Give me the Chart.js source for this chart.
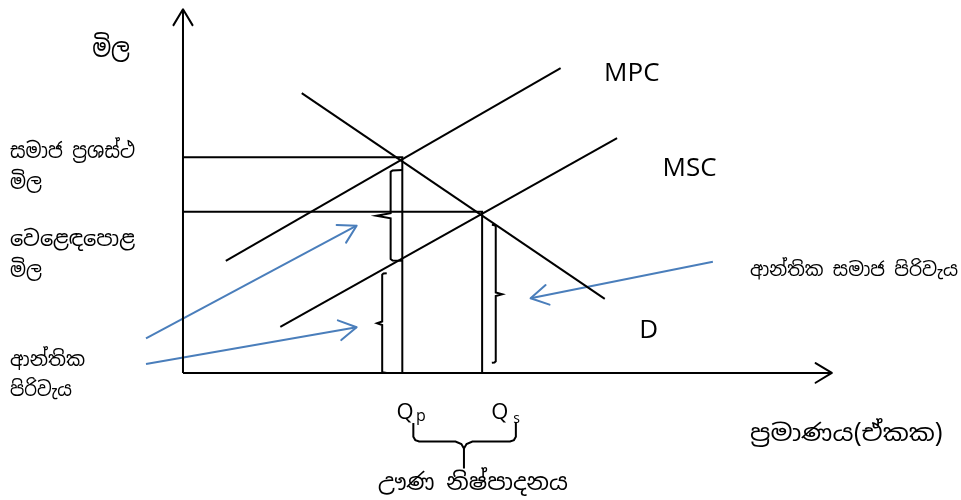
<!DOCTYPE html>
<html>
<head>
<meta charset="utf-8">
<script src="https://cdn.jsdelivr.net/npm/chart.js@4/dist/chart.umd.min.js"></script>
<style>
html,body{margin:0;padding:0;background:#fff;}
#wrap{width:961px;height:500px;position:relative;}
</style>
</head>
<body>
<div id="wrap"><canvas id="c" width="961" height="500"></canvas></div>
<script>
// ---- data (quantity on x, price on y, arbitrary units) ----
const axisY = [[0,0],[0,100.2]];
const axisX = [[0,0],[100,0]];
const mpcLine = [[6.6,30.9],[58.2,84.0]];
const mscLine = [[15.0,12.7],[66.9,64.7]];
const demandLine = [[18.3,77.1],[65.0,20.4]];
const qp = 33.8, qs = 46.1;
const socialPrice = 59.4, marketPrice = 44.4;
const socialGuide = [[0,socialPrice],[qp,socialPrice],[qp,0]];
const marketGuide = [[0,marketPrice],[qs,marketPrice],[qs,0]];
const braceA = [[33.8,55.9],[32.3,55.8],[32.0,55.4],[32.0,44.0],[29.8,43.3],[32.0,42.6],[32.0,31.4],[32.3,31.0],[33.8,30.9]];
const braceB = [[31.4,27.5],[30.9,27.4],[30.7,27.1],[30.7,14.2],[29.9,13.7],[30.7,13.2],[30.7,0.2],[31.4,0]];
const braceC = [[47.6,40.8],[48.0,40.7],[48.2,40.4],[48.2,22.2],[49.2,21.7],[48.2,21.2],[48.2,3.2],[48.0,2.9],[47.6,2.8]];
const braceQ = [[35.5,-13.8],[35.5,-17.6],[35.8,-18.5],[36.4,-18.9],[42.0,-18.9],[42.9,-19.6],[43.3,-20.8],[43.3,-26.3],[43.3,-20.8],[43.7,-19.6],[44.6,-18.9],[50.4,-18.9],[51.0,-18.5],[51.3,-17.6],[51.3,-13.8]];
const arrowMC1 = [[-5.7,9.56],[26.76,40.58]];
const arrowMC2 = [[-5.7,2.48],[26.76,12.59]];
const arrowMSC = [[81.66,30.66],[53.57,20.58]];

const labels = [
  {t:'මිල', x:-14.0, y:89.0, size:26, w:38, base:'middle'},
  {t:'සමාජ ප්‍රශස්ථ', x:-26.66, y:60.9, size:21, w:125, base:'middle'},
  {t:'මිල', x:-26.66, y:52.3, size:21, w:32, base:'middle'},
  {t:'වෙළෙඳපොළ', x:-26.66, y:36.6, size:21, w:125, base:'middle'},
  {t:'මිල', x:-26.66, y:28.1, size:21, w:32, base:'middle'},
  {t:'ආන්තික', x:-26.66, y:3.3, size:20, w:75, base:'middle'},
  {t:'පිරිවැය', x:-26.66, y:-4.7, size:20, w:62, base:'middle'},
  {t:'ආන්තික සමාජ පිරිවැය', x:87.38, y:28.1, size:19, w:208, base:'middle'},
  {t:'ප්‍රමාණය(ඒකක)', x:87.38, y:-17.1, size:23, w:193, base:'middle'},
  {t:'ඌණ නිෂ්පාදනය', x:30.05, y:-30.4, size:23, w:190, base:'middle'},
  {t:'MPC', x:64.9, y:80.5, size:26, base:'alphabetic', latin:true},
  {t:'MSC', x:73.9, y:54.3, size:26, base:'alphabetic', latin:true},
  {t:'D', x:70.3, y:9.6, size:26, base:'alphabetic', latin:true},
  {t:'Q', x:32.9, y:-12.7, size:22, base:'alphabetic', latin:true},
  {t:'p', x:35.9, y:-13.3, size:16, base:'alphabetic', latin:true},
  {t:'Q', x:47.5, y:-12.7, size:22, base:'alphabetic', latin:true},
  {t:'s', x:50.9, y:-13.8, size:14, base:'alphabetic', latin:true}
];

const BLACK = '#000000', BLUE = '#4a7ebb';
function toXY(a){ return a.map(p=>({x:p[0],y:p[1]})); }
function ds(data, color, width, extra){
  return Object.assign({data:toXY(data), showLine:true, borderColor:color, backgroundColor:color,
    borderWidth:width, pointRadius:0, pointHoverRadius:0, tension:0, fill:false, clip:false}, extra||{});
}

const arrowPlugin = {
  id:'arrows',
  afterDatasetsDraw(chart){
    const ctx = chart.ctx;
    chart.data.datasets.forEach((d,i)=>{
      if(!d.arrowHead) return;
      const pts = chart.getDatasetMeta(i).data;
      const a = pts[pts.length-2], b = pts[pts.length-1];
      const ang = Math.atan2(b.y-a.y, b.x-a.x);
      const L = d.arrowHead.len, h = d.arrowHead.angle*Math.PI/180;
      ctx.save();
      ctx.strokeStyle = d.borderColor; ctx.lineWidth = d.borderWidth; ctx.lineCap='round'; ctx.lineJoin='round';
      ctx.beginPath();
      ctx.moveTo(b.x - L*Math.cos(ang-h), b.y - L*Math.sin(ang-h));
      ctx.lineTo(b.x, b.y);
      ctx.lineTo(b.x - L*Math.cos(ang+h), b.y - L*Math.sin(ang+h));
      ctx.stroke();
      ctx.restore();
    });
  }
};

const textPlugin = {
  id:'texts',
  afterDraw(chart){
    const ctx = chart.ctx, xs = chart.scales.x, ys = chart.scales.y;
    labels.forEach(l=>{
      ctx.save();
      ctx.fillStyle = '#000';
      ctx.font = l.size + 'px ' + (l.latin ? '"Open Sans", "Noto Sans", sans-serif' : '"Noto Sans Sinhala", "Iskoola Pota", "Noto Serif Sinhala", "Noto Sans", sans-serif');
      ctx.textAlign = 'left';
      ctx.textBaseline = l.base;
      const px = xs.getPixelForValue(l.x), py = ys.getPixelForValue(l.y);
      ctx.translate(px, py);
      if(l.w){
        const m = ctx.measureText(l.t).width;
        if(m > 0) ctx.scale(l.w/m, 1);
      }
      ctx.fillText(l.t, 0, 0);
      ctx.restore();
    });
  }
};

new Chart(document.getElementById('c'), {
  type:'scatter',
  data:{ datasets:[
    ds(axisY, BLACK, 2, {arrowHead:{len:18.5, angle:31}}),
    ds(axisX, BLACK, 2, {arrowHead:{len:19, angle:31}}),
    ds(mpcLine, BLACK, 2),
    ds(mscLine, BLACK, 2),
    ds(demandLine, BLACK, 2),
    ds(socialGuide, BLACK, 2),
    ds(marketGuide, BLACK, 2),
    ds(braceA, BLACK, 2),
    ds(braceB, BLACK, 2),
    ds(braceC, BLACK, 2),
    ds(braceQ, BLACK, 2),
    ds(arrowMC1, BLUE, 2, {arrowHead:{len:20, angle:30}}),
    ds(arrowMC2, BLUE, 2, {arrowHead:{len:20, angle:30}}),
    ds(arrowMSC, BLUE, 2, {arrowHead:{len:20, angle:30}})
  ]},
  options:{
    responsive:false, animation:false,
    layout:{padding:0},
    plugins:{legend:{display:false}, tooltip:{enabled:false}},
    scales:{
      x:{type:'linear', min:-28.2, max:119.9, display:false},
      y:{type:'linear', min:-35.0, max:102.75, display:false}
    },
    events:[]
  },
  plugins:[arrowPlugin, textPlugin]
});
</script>
</body>
</html>
